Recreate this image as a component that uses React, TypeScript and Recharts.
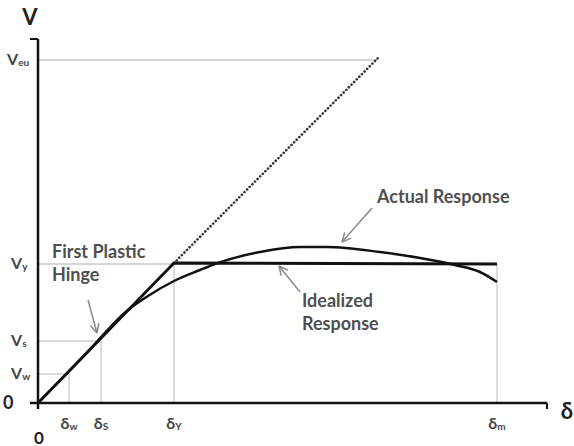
import React from 'react';
import { LineChart, Line, XAxis, YAxis, ReferenceLine, ReferenceDot } from 'recharts';

// units: displacement (δ) and shear (V)
const IDEAL_D = [0, 136, 459];
const IDEAL_V = [0, 140, 139];
const ACTUAL_D = [0, 45, 90, 110, 136, 162, 177, 222, 262, 289, 342, 382, 417, 442, 459];
const ACTUAL_V = [0, 46, 93, 107, 122, 133, 139, 151, 156, 156, 151, 145, 138, 131, 121];
const ELASTIC_D = [136, 340];
const ELASTIC_V = [140, 345];

const V_TICKS = [0, 29, 62, 139, 343];
const V_SUBS = ['', 'w', 's', 'y', 'eu'];
const D_TICKS = [0, 31, 63, 136, 459];
const D_SUBS = ['', 'w', 'S', 'Y', 'm'];

const D_MAX = 509;
const V_MAX = 364;

const FONT = 'Lato, "Open Sans", sans-serif';
const INK = '#111';
const GUIDE = '#c9c9c9';
const NOTE = '#4f4f4f';

const toPts = (ds: number[], vs: number[]) => ds.map((d, i) => ({ d, v: vs[i] }));

const ideal = toPts(IDEAL_D, IDEAL_V);
const actual = toPts(ACTUAL_D, ACTUAL_V);
const elastic = toPts(ELASTIC_D, ELASTIC_V);

// thin gray guide lines from the axes to the key points
const hGuides: [number, number][] = [[V_TICKS[1], D_TICKS[1]], [V_TICKS[2], D_TICKS[2]], [V_TICKS[3], D_TICKS[3]], [V_TICKS[4], ELASTIC_D[1]]];
const vGuides: [number, number][] = [[D_TICKS[1], V_TICKS[1]], [D_TICKS[2], V_TICKS[2]], [D_TICKS[3], IDEAL_V[1]], [D_TICKS[4], IDEAL_V[2]]];

type P = { x: number; y: number };
function arrow(tail: P, head: P, len = 10, ang = 0.45): [P, P][] {
  const a = Math.atan2(tail.y - head.y, tail.x - head.x);
  const w1 = { x: head.x + len * Math.cos(a + ang), y: head.y + len * Math.sin(a + ang) };
  const w2 = { x: head.x + len * Math.cos(a - ang), y: head.y + len * Math.sin(a - ang) };
  return [[tail, head], [head, w1], [head, w2]];
}

const arrows = [
  arrow({ x: 50, y: 103 }, { x: 59, y: 70 }),
  arrow({ x: 334, y: 195 }, { x: 304, y: 161 }),
  arrow({ x: 262, y: 111 }, { x: 241, y: 137 }),
];

const notes = [
  { d: 14, v: 145, lines: ['First Plastic', 'Hinge'] },
  { d: 339, v: 200, lines: ['Actual Response'] },
  { d: 264, v: 96, lines: ['Idealized', 'Response'] },
];

const VTick = (props: any) => {
  const i = V_TICKS.indexOf(props.payload.value);
  if (i === 0) {
    return <text x={3} y={props.y} dy={6} fontFamily={FONT} fontWeight={700} fontSize={18} fill="#222">0</text>;
  }
  return (
    <text x={i === 4 ? 7 : 11} y={props.y} dy={5} fontFamily={FONT} fontWeight={700} fill="#444">
      <tspan fontSize={16}>V</tspan>
      <tspan fontSize={10} dy={1}>{V_SUBS[i]}</tspan>
    </text>
  );
};

const DTick = (props: any) => {
  const i = D_TICKS.indexOf(props.payload.value);
  if (i === 0) {
    return <text x={props.x + 1} y={props.y} dy={28} textAnchor="middle" dominantBaseline="central" fontFamily={FONT} fontWeight={700} fontSize={17} fill="#222">0</text>;
  }
  return (
    <text x={props.x} y={props.y} dy={20} textAnchor="middle" fontFamily={FONT} fontWeight={700} fill="#444">
      <tspan fontSize={16}>δ</tspan>
      <tspan fontSize={10} dy={1}>{D_SUBS[i]}</tspan>
    </text>
  );
};

const noteShape = (lines: string[]) => (p: any) => (
  <text x={p.cx} y={p.cy} fontFamily={FONT} fontWeight={700} fontSize={18} fill={NOTE}>
    {lines.map((t, k) => (
      <tspan key={k} x={p.cx} dy={k === 0 ? 0 : 23}>{t}</tspan>
    ))}
  </text>
);

const titleShape = (t: string) => (p: any) => (
  <text x={p.cx} y={p.cy} textAnchor="middle" dominantBaseline="central" fontFamily={FONT} fontWeight={700} fontSize={22} fill="#222">{t}</text>
);

export default function App() {
  return (
    <div style={{ position: 'absolute', left: 0, top: 0, background: '#fff' }}>
      <LineChart width={574} height={446} margin={{ top: 39, right: 27, bottom: 0, left: 0 }}>
        <XAxis dataKey="d" type="number" domain={[-8, D_MAX]} ticks={D_TICKS} axisLine={false} tickLine={false}
          tickSize={0} tickMargin={0} height={37} tick={DTick} interval={0} allowDataOverflow />
        <YAxis dataKey="v" type="number" domain={[-6, V_MAX]} ticks={V_TICKS} axisLine={false} tickLine={false}
          tickSize={0} tickMargin={0} width={30} tick={VTick} interval={0} allowDataOverflow />

        {hGuides.map(([v, d], i) => (
          <ReferenceLine key={`h${i}`} segment={[{ x: 0, y: v }, { x: d, y: v }]} stroke={GUIDE} strokeWidth={1.3} />
        ))}
        {vGuides.map(([d, v], i) => (
          <ReferenceLine key={`v${i}`} segment={[{ x: d, y: 0 }, { x: d, y: v }]} stroke={GUIDE} strokeWidth={1.3} />
        ))}

        {/* axes with their small end hooks */}
        <ReferenceLine segment={[{ x: 0, y: -6 }, { x: 0, y: V_MAX }]} stroke={INK} strokeWidth={2.5} />
        <ReferenceLine segment={[{ x: -8, y: V_MAX }, { x: 0, y: V_MAX }]} stroke={INK} strokeWidth={2} />
        <ReferenceLine segment={[{ x: -8, y: 0 }, { x: D_MAX, y: 0 }]} stroke={INK} strokeWidth={2.5} />
        <ReferenceLine segment={[{ x: D_MAX, y: 0 }, { x: D_MAX, y: -6 }]} stroke={INK} strokeWidth={2} />

        <Line data={elastic} dataKey="v" type="linear" stroke="#333" strokeWidth={2.6} strokeDasharray="0.1 3.6"
          strokeLinecap="round" dot={false} isAnimationActive={false} />
        <Line data={actual} dataKey="v" type="monotone" stroke={INK} strokeWidth={2.5} dot={false} isAnimationActive={false} />
        <Line data={ideal} dataKey="v" type="linear" stroke={INK} strokeWidth={2.8} dot={false} isAnimationActive={false} />

        {arrows.flat().map((seg, i) => (
          <ReferenceLine key={`a${i}`} segment={seg} stroke="#8a8a8a" strokeWidth={1.5} ifOverflow="visible" />
        ))}
        {notes.map((n, i) => (
          <ReferenceDot key={`n${i}`} x={n.d} y={n.v} r={0} shape={noteShape(n.lines)} ifOverflow="visible" />
        ))}
        <ReferenceDot x={-8} y={387} r={0} shape={titleShape('V')} ifOverflow="visible" />
        <ReferenceDot x={529} y={-7} r={0} shape={titleShape('δ')} ifOverflow="visible" />
      </LineChart>
    </div>
  );
}
